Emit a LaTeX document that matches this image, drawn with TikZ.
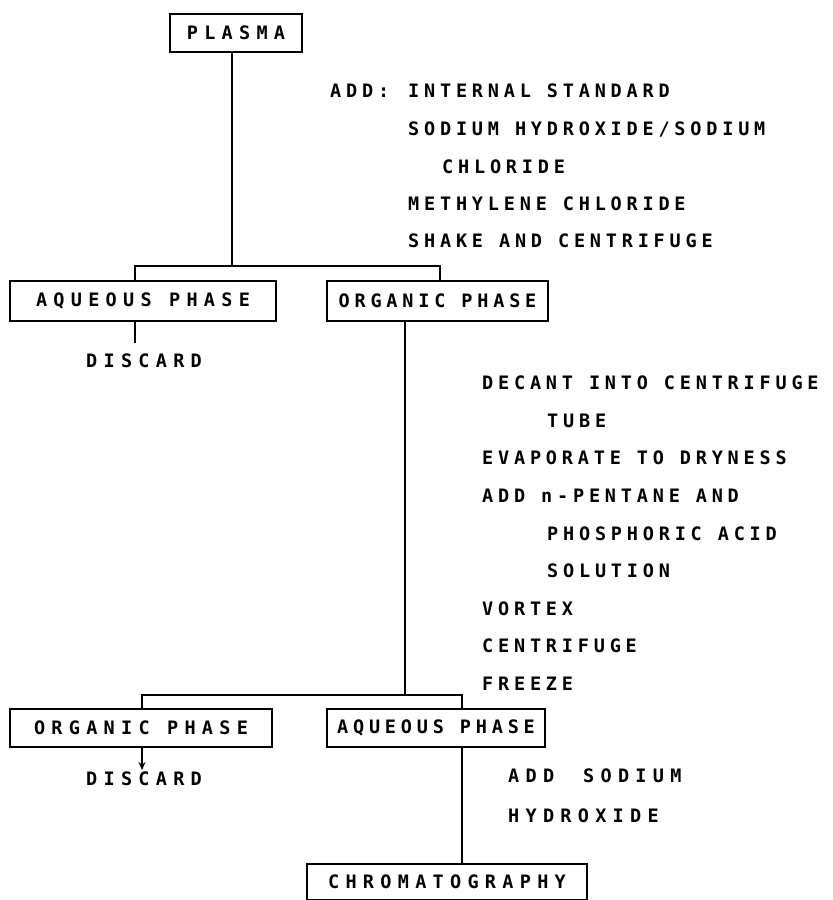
\documentclass[tikz,border=0pt]{standalone}
\usepackage{fontspec}
\newfontfamily\tw[LetterSpace=26]{DejaVu Sans Mono}
\newfontfamily\twb[LetterSpace=34]{DejaVu Sans Mono}
\usetikzlibrary{arrows.meta}
\begin{document}
\begin{tikzpicture}[x=1pt,y=-1pt,
  txt/.style={font=\tw\bfseries\fontsize{18.5}{18.5}\selectfont},
  btxt/.style={font=\twb\bfseries\fontsize{18.5}{18.5}\selectfont},
  lbl/.style={txt,anchor=base west,inner sep=0pt},
  blbl/.style={btxt,anchor=base west,inner sep=0pt},
  box/.style={btxt,draw,line width=1.8pt,rectangle,inner sep=0pt},
  nbox/.style={box,txt},
  conn/.style={line width=1.8pt}]
\useasboundingbox (0,0) rectangle (833,900);
% boxes
\node[box,minimum width=132,minimum height=38] (plasma) at (236,33) {PLASMA};
\node[box,minimum width=266,minimum height=40] (aq1) at (143,301) {AQUEOUS PHASE};
\node[nbox,minimum width=221,minimum height=40] (org1) at (437.5,301) {ORGANIC PHASE};
\node[box,minimum width=262,minimum height=38] (org2) at (141,728) {ORGANIC PHASE};
\node[nbox,minimum width=218,minimum height=38] (aq2) at (436,728) {AQUEOUS PHASE};
\node[box,minimum width=280,minimum height=36] (chrom) at (447,882) {CHROMATOGRAPHY};
% discard labels
\node[blbl] (dis1) at (86,367) {DISCARD};
\node[blbl] (dis2) at (86,785) {DISCARD};
% text block 1
\node[lbl] (t1a) at (330,97) {ADD:};
\node[lbl] (t1b) at (408,97) {INTERNAL STANDARD};
\node[lbl] (t1c) at (408,135) {SODIUM HYDROXIDE/SODIUM};
\node[lbl] (t1d) at (442,173) {CHLORIDE};
\node[lbl] (t1e) at (408,210) {METHYLENE CHLORIDE};
\node[lbl] (t1f) at (408,247) {SHAKE AND CENTRIFUGE};
% text block 2
\node[lbl] (t2a) at (482,389) {DECANT INTO CENTRIFUGE};
\node[lbl] (t2b) at (547,427) {TUBE};
\node[lbl] (t2c) at (482,464) {EVAPORATE TO DRYNESS};
\node[lbl] (t2d) at (482,502) {ADD n-PENTANE AND};
\node[lbl] (t2e) at (547,540) {PHOSPHORIC ACID};
\node[lbl] (t2f) at (547,577) {SOLUTION};
\node[lbl] (t2g) at (482,615) {VORTEX};
\node[lbl] (t2h) at (482,652) {CENTRIFUGE};
\node[lbl] (t2i) at (482,690) {FREEZE};
% text block 3
\node[blbl] (t3a) at (508,782) {ADD};
\node[blbl] (t3b) at (583,782) {SODIUM};
\node[blbl] (t3c) at (508,822) {HYDROXIDE};
% junction coordinates
\coordinate (j1) at (232,266);
\coordinate (h1l) at (135,266);
\coordinate (h1r) at (440,266);
\coordinate (v2) at (405,695);
\coordinate (h2l) at (142,695);
\coordinate (h2r) at (462,695);
\coordinate (d1) at (135,343);
\coordinate (d2) at (142,770);
% connectors
\draw[conn] (plasma.south -| j1) -- (j1);
\draw[conn] (aq1.north -| h1l) -- (h1l) -- (h1r) -- (org1.north -| h1r);
\draw[conn] (aq1.south -| d1) -- (d1);
\draw[conn] (org1.south -| v2) -- (v2);
\draw[conn] (org2.north -| h2l) -- (h2l) -- (h2r) -- (aq2.north -| h2r);
\draw[conn,-{Stealth[length=8pt,width=7pt]}] (org2.south -| d2) -- (d2);
\draw[conn] (aq2.south -| h2r) -- (chrom.north -| h2r);
\end{tikzpicture}
\end{document}
